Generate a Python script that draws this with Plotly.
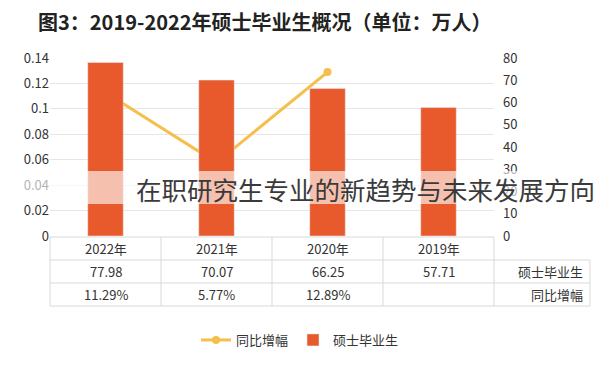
import plotly.graph_objects as go

categories = ["2022年", "2021年", "2020年", "2019年"]
graduates = [77.98, 70.07, 66.25, 57.71]
growth = [0.1129, 0.0577, 0.1289, None]
growth_labels = ["11.29%", "5.77%", "12.89%", ""]
left_ticks = [0, 0.02, 0.04, 0.06, 0.08, 0.1, 0.12, 0.14]
left_tick_text = ["0", "0.02", "0.04", "0.06", "0.08", "0.1", "0.12", "0.14"]
right_ticks = [0, 10, 20, 30, 40, 50, 60, 70, 80]

W, H = 600, 365
L, R, T, B = 50, 106, 58, 129
pw, ph = W - L - R, H - T - B

def px(x):
    return (x - L) / pw

def py(y):
    return (H - B - y) / ph

FONT = "Noto Sans CJK SC"
BAR = "#E8592B"
LINE = "#F6BE4B"

fig = go.Figure()
fig.add_trace(go.Bar(x=categories, y=graduates, name="硕士毕业生", marker_color=BAR,
                     width=0.32, yaxis="y2"))
fig.add_trace(go.Scatter(x=categories, y=growth, name="同比增幅", mode="lines+markers",
                         line=dict(color=LINE, width=3), marker=dict(color=LINE, size=8),
                         yaxis="y"))

shapes = []
ann = []
line_style = dict(color="#D9D9D9", width=1)
ys = [H - B + 1, 260, 283, 306]
xs = [L + i * pw / 4 for i in range(5)]
right_edge = 590
shapes.append(dict(type="line", xref="paper", yref="paper", x0=px(L), x1=px(xs[-1]), y0=py(ys[0]), y1=py(ys[0]), line=line_style))
for yy in ys[1:]:
    shapes.append(dict(type="line", xref="paper", yref="paper", x0=px(L), x1=px(right_edge), y0=py(yy), y1=py(yy), line=line_style))
for xx in xs:
    shapes.append(dict(type="line", xref="paper", yref="paper", x0=px(xx), x1=px(xx), y0=py(ys[0]), y1=py(ys[3]), line=line_style))
shapes.append(dict(type="line", xref="paper", yref="paper", x0=px(right_edge), x1=px(right_edge), y0=py(ys[1]), y1=py(ys[3]), line=line_style))

for i, c in enumerate(categories):
    cx = px((xs[i] + xs[i + 1]) / 2)
    for txt, yy in [(c, 248), (f"{graduates[i]:.2f}", 271), (growth_labels[i], 294)]:
        if txt:
            ann.append(dict(text=txt, xref="paper", yref="paper", x=cx, y=py(yy), showarrow=False,
                            xanchor="center", yanchor="middle",
                            font=dict(size=13, color="#333", family=FONT)))
for txt, yy in [("硕士毕业生", 271), ("同比增幅", 294)]:
    ann.append(dict(text=txt, xref="paper", yref="paper", x=px(585), y=py(yy), xanchor="right",
                    yanchor="middle", showarrow=False, font=dict(size=13, color="#333", family=FONT)))

ann.append(dict(text="<b>图3：2019-2022年硕士毕业生概况（单位：万人）</b>", xref="paper", yref="paper",
                x=px(265), y=py(22), xanchor="center", yanchor="middle", showarrow=False,
                font=dict(size=20, color="#222", family=FONT)))

shapes.append(dict(type="rect", xref="paper", yref="paper", x0=px(0), x1=px(W), y0=py(204), y1=py(171),
                   fillcolor="rgba(255,255,255,0.62)", line=dict(width=0), layer="above"))
ann.append(dict(text="在职研究生专业的新趋势与未来发展方向", xref="paper", yref="paper", x=px(134), y=py(188),
                xanchor="left", yanchor="middle", showarrow=False,
                font=dict(size=25.5, color="#3a3a3a", family=FONT)))

fig.update_layout(
    width=W, height=H, margin=dict(l=L, r=R, t=T, b=B, autoexpand=False),
    paper_bgcolor="white", plot_bgcolor="white",
    font=dict(family=FONT, size=13, color="#333"),
    showlegend=True,
    legend=dict(orientation="h", x=0.5, xref="container", xanchor="center",
                y=(H - 340) / H, yref="container", yanchor="middle",
                font=dict(size=13, family=FONT), traceorder="reversed"),
    xaxis=dict(showticklabels=False, showgrid=False, zeroline=False, showline=False, ticks="",
               automargin=False),
    yaxis=dict(range=[0, 0.14], tickvals=left_ticks, ticktext=left_tick_text, showgrid=True,
               gridcolor="#E6E6E6", zeroline=False, showline=False, automargin=False,
               tickfont=dict(size=13, color="#333")),
    yaxis2=dict(range=[0, 80], tickvals=right_ticks, overlaying="y", side="right", showgrid=False,
                zeroline=False, showline=False, automargin=False, ticklabelstandoff=8,
                tickfont=dict(size=13, color="#333")),
    shapes=shapes, annotations=ann,
)
fig.write_html("out.html", config={"displayModeBar": False},
               post_script="document.body.style.margin='0';document.body.style.padding='0';")
